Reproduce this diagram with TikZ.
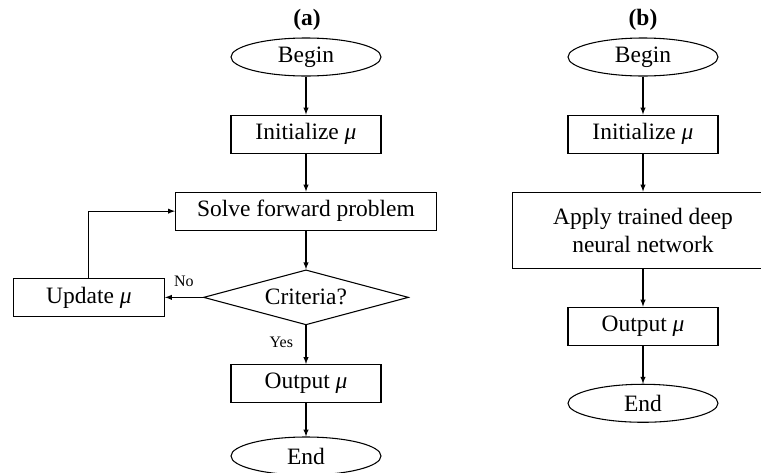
\documentclass[tikz,border=0pt]{standalone}
\usepackage{fontspec}
\setmainfont{Liberation Serif}
\usetikzlibrary{positioning,shapes.geometric}

\begin{document}
\begin{tikzpicture}[x=0.75pt, y=-0.75pt, node distance=28.5pt,
    font=\fontsize{17.6}{21}\selectfont, line width=0.8pt,
    term/.style={draw, ellipse, minimum width=112.5pt, minimum height=28.5pt, inner sep=0pt},
    proc/.style={draw, rectangle, minimum width=112.5pt, minimum height=28.5pt, inner sep=2pt, align=center},
    wide/.style={proc, minimum width=195.75pt},
    test/.style={draw, diamond, aspect=3.7, minimum width=153.75pt, minimum height=41.25pt, inner sep=0pt},
    lbl/.style={font=\fontsize{12}{14}\selectfont}]
    \clip (0,0) rectangle (761,472);

    % (a) iterative solver
    \node (titleA) at (307,20) {\textbf{(a)}};
    \node (beginA) [term] at (306,57) {Begin};
    \node (initA) [proc, below=of beginA] {Initialize \textit{μ}};
    \node (solveA) [wide, below=of initA] {Solve forward problem};
    \node (critA) [test, below=29pt of solveA] {Criteria?};
    \node (updA) [proc, minimum width=113.25pt, left=of critA] {Update \textit{μ}};
    \node (outA) [proc, below=29pt of critA] {Output \textit{μ}};
    \node (endA) [term, below=25pt of outA] {End};

    \draw [-latex] (beginA) -- (initA);
    \draw [-latex] (initA) -- (solveA);
    \draw [-latex] (solveA) -- (critA);
    \draw [-latex] (critA) -- node [lbl, above=4pt] {No} (updA);
    \draw [-latex] (critA) -- node [lbl, left=6pt, pos=0.45] {Yes} (outA);
    \draw [-latex] (updA) |- (solveA);
    \draw [-latex] (outA) -- (endA);

    % (b) trained network
    \node (titleB) at (643,20) {\textbf{(b)}};
    \node (beginB) [term] at (643,57) {Begin};
    \node (initB) [proc, below=of beginB] {Initialize \textit{μ}};
    \node (applyB) [wide, minimum height=57pt, below=of initB] {Apply trained deep\\neural network};
    \node (outB) [proc, below=of applyB] {Output \textit{μ}};
    \node (endB) [term, below=of outB] {End};

    \draw [-latex] (beginB) -- (initB);
    \draw [-latex] (initB) -- (applyB);
    \draw [-latex] (applyB) -- (outB);
    \draw [-latex] (outB) -- (endB);
\end{tikzpicture}
\end{document}
